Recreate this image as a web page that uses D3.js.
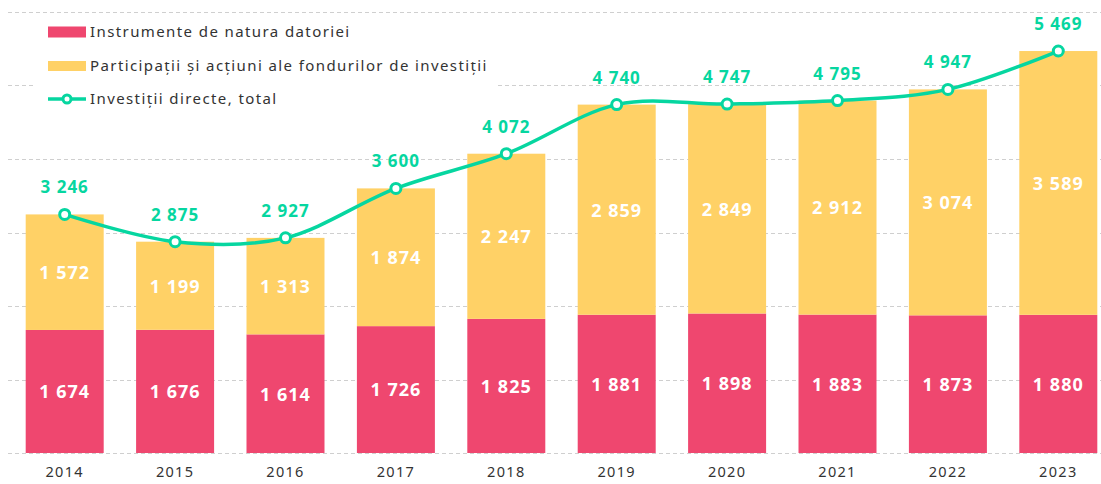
<!DOCTYPE html>
<html>
<head>
<meta charset="utf-8">
<script src="https://cdn.jsdelivr.net/npm/d3@7"></script>
<style>
    body { margin: 0; background: #ffffff; }
    svg { display: block; font-family: "Noto Sans", sans-serif; }
</style>
</head>
<body>
<div class="chart"></div>
<script>
"use strict";

// Chart data
var years = ["2014", "2015", "2016", "2017", "2018", "2019", "2020", "2021", "2022", "2023"];
var debtValues = [1674, 1676, 1614, 1726, 1825, 1881, 1898, 1883, 1873, 1880];
var equityValues = [1572, 1199, 1313, 1874, 2247, 2859, 2849, 2912, 3074, 3589];
var totalValues = [3246, 2875, 2927, 3600, 4072, 4740, 4747, 4795, 4947, 5469];
var gridTicks = [0, 1000, 2000, 3000, 4000, 5000, 6000];
var seriesNames = ["Instrumente de natura datoriei", "Participații și acțiuni ale fondurilor de investiții", "Investiții directe, total"];

renderChart();

function renderChart() {
    var width = 1101;
    var height = 484;

    // Colors
    var debtColor = "#EF476F";
    var equityColor = "#FFD166";
    var lineColor = "#06D6A0";
    var gridColor = "#cfcfcf";
    var axisTextColor = "#333333";

    var fmt = d3.formatLocale({ decimal: ",", thousands: " ", grouping: [3], currency: ["", ""] }).format(",d");

    var svg = d3.select(".chart").append("svg")
        .attr("width", width)
        .attr("height", height);

    // Scales
    var x = d3.scaleBand()
        .domain(years)
        .range([9.5, 1113.5])
        .paddingInner(0.2935)
        .paddingOuter(0.1467);

    var y = d3.scaleLinear()
        .domain([0, 6000])
        .range([453, 12]);

    // Dashed gridlines
    svg.append("g")
        .selectAll("line")
        .data(gridTicks)
        .join("line")
        .attr("x1", 8)
        .attr("x2", width)
        .attr("y1", function (d) { return Math.round(y(d)) + 0.5; })
        .attr("y2", function (d) { return Math.round(y(d)) + 0.5; })
        .style("stroke", gridColor)
        .style("stroke-width", 1)
        .style("stroke-dasharray", "4,3");

    // Legend background hides the grid behind it
    svg.append("rect")
        .attr("x", 36)
        .attr("y", 18)
        .attr("width", 460)
        .attr("height", 94)
        .style("fill", "#ffffff");

    // Stacked bars
    var bars = svg.append("g");
    bars.selectAll(".debt")
        .data(years)
        .join("rect")
        .attr("class", "debt")
        .attr("x", function (d) { return x(d); })
        .attr("width", x.bandwidth())
        .attr("y", function (d, i) { return y(debtValues[i]); })
        .attr("height", function (d, i) { return y(0) - y(debtValues[i]); })
        .style("fill", debtColor);

    bars.selectAll(".equity")
        .data(years)
        .join("rect")
        .attr("class", "equity")
        .attr("x", function (d) { return x(d); })
        .attr("width", x.bandwidth())
        .attr("y", function (d, i) { return y(debtValues[i] + equityValues[i]); })
        .attr("height", function (d, i) { return y(debtValues[i]) - y(debtValues[i] + equityValues[i]); })
        .style("fill", equityColor);

    // Value labels inside bars
    var labels = svg.append("g")
        .style("font-size", "18px")
        .style("font-weight", "bold")
        .style("letter-spacing", "1px")
        .style("fill", "#ffffff")
        .attr("text-anchor", "middle");

    labels.selectAll(".debtLabel")
        .data(years)
        .join("text")
        .attr("x", function (d) { return x(d) + x.bandwidth() / 2; })
        .attr("y", function (d, i) { return y(debtValues[i] / 2); })
        .attr("dy", "0.38em")
        .text(function (d, i) { return fmt(debtValues[i]); });

    labels.selectAll(".equityLabel")
        .data(years)
        .join("text")
        .attr("x", function (d) { return x(d) + x.bandwidth() / 2; })
        .attr("y", function (d, i) { return y(debtValues[i] + equityValues[i] / 2); })
        .attr("dy", "0.38em")
        .text(function (d, i) { return fmt(equityValues[i]); });

    // Total line
    var line = d3.line()
        .x(function (d, i) { return x(years[i]) + x.bandwidth() / 2; })
        .y(function (d) { return y(d); })
        .curve(d3.curveCardinal);

    svg.append("path")
        .datum(totalValues)
        .attr("d", line)
        .style("fill", "none")
        .style("stroke", lineColor)
        .style("stroke-width", 3.5);

    svg.append("g")
        .selectAll("circle")
        .data(totalValues)
        .join("circle")
        .attr("cx", function (d, i) { return x(years[i]) + x.bandwidth() / 2; })
        .attr("cy", function (d) { return y(d); })
        .attr("r", 5)
        .style("fill", "#ffffff")
        .style("stroke", lineColor)
        .style("stroke-width", 3);

    svg.append("g")
        .selectAll("text")
        .data(totalValues)
        .join("text")
        .attr("x", function (d, i) { return x(years[i]) + x.bandwidth() / 2; })
        .attr("y", function (d) { return y(d) - 21; })
        .attr("text-anchor", "middle")
        .style("font-size", "17px")
        .style("font-weight", "bold")
        .style("letter-spacing", "1px")
        .style("fill", lineColor)
        .text(function (d) { return fmt(d); });

    // X axis labels
    svg.append("g")
        .attr("transform", "translate(0,453)")
        .call(d3.axisBottom(x).tickSize(0).tickPadding(14))
        .call(function (g) { g.select(".domain").remove(); })
        .selectAll("text")
        .style("font-family", "Noto Sans, sans-serif")
        .style("font-size", "14.5px")
        .style("letter-spacing", "1.3px")
        .style("fill", axisTextColor);

    // Legend
    var legend = svg.append("g")
        .style("font-size", "15px")
        .style("letter-spacing", "1.4px")
        .style("fill", axisTextColor);

    var rowY = [32, 66, 99];

    legend.append("rect")
        .attr("x", 48).attr("y", rowY[0] - 5.5)
        .attr("width", 38).attr("height", 11)
        .style("fill", debtColor);

    legend.append("rect")
        .attr("x", 48).attr("y", rowY[1] - 5)
        .attr("width", 38).attr("height", 10)
        .style("fill", equityColor);

    legend.append("line")
        .attr("x1", 48).attr("x2", 86)
        .attr("y1", rowY[2]).attr("y2", rowY[2])
        .style("stroke", lineColor)
        .style("stroke-width", 3.5);

    legend.append("circle")
        .attr("cx", 67).attr("cy", rowY[2])
        .attr("r", 4)
        .style("fill", "#ffffff")
        .style("stroke", lineColor)
        .style("stroke-width", 3);

    legend.selectAll("text")
        .data(seriesNames)
        .join("text")
        .attr("x", 90)
        .attr("y", function (d, i) { return rowY[i]; })
        .attr("dy", "0.35em")
        .text(function (d) { return d; });
}
</script>
</body>
</html>
